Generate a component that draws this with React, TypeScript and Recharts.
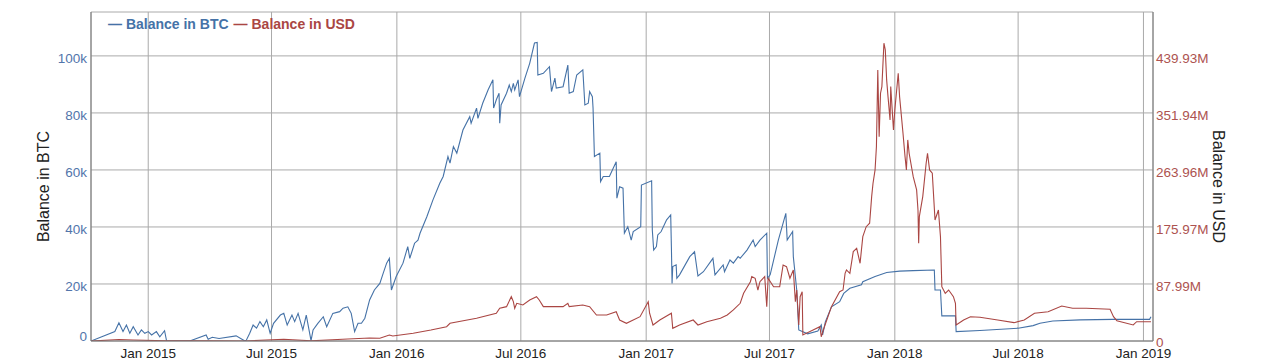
import React from "react";
import { LineChart, Line, XAxis, YAxis, CartesianGrid, Label } from "recharts";

const FONT = '"Liberation Sans", Arial, Helvetica, sans-serif';
const BTC_COLOR = "#4572A7";
const USD_COLOR = "#AA4643";

// ---------------- Data ----------------
const btcDates: string[] = [
  "2014-10-09","2014-11-13","2014-11-19","2014-11-25","2014-11-30","2014-12-05","2014-12-10","2014-12-17","2014-12-22","2014-12-27",
  "2015-01-01","2015-01-06","2015-01-13","2015-01-18","2015-01-25","2015-01-28","2015-03-03","2015-03-27","2015-03-30","2015-04-05",
  "2015-04-15","2015-05-10","2015-05-23","2015-05-25","2015-05-30","2015-06-04","2015-06-09","2015-06-14","2015-06-19","2015-06-24",
  "2015-06-29","2015-07-04","2015-07-14","2015-07-19","2015-07-24","2015-07-31","2015-08-04","2015-08-09","2015-08-16","2015-08-21",
  "2015-08-26","2015-08-28","2015-08-31","2015-09-07","2015-09-15","2015-09-20","2015-09-29","2015-10-09","2015-10-14","2015-10-21",
  "2015-10-26","2015-10-31","2015-11-05","2015-11-10","2015-11-15","2015-11-22","2015-11-29","2015-12-07","2015-12-12","2015-12-17",
  "2015-12-21","2015-12-24","2015-12-31","2016-01-10","2016-01-17","2016-01-20","2016-01-27","2016-02-01","2016-02-04","2016-02-14",
  "2016-02-23","2016-03-04","2016-03-09","2016-03-16","2016-03-19","2016-03-24","2016-03-29","2016-04-07","2016-04-17","2016-04-19",
  "2016-04-27","2016-04-29","2016-05-06","2016-05-14","2016-05-21","2016-05-22","2016-05-26","2016-05-30","2016-05-31","2016-06-02",
  "2016-06-10","2016-06-14","2016-06-17","2016-06-20","2016-06-22","2016-06-27","2016-06-29","2016-07-07","2016-07-14","2016-07-21",
  "2016-07-25","2016-07-26","2016-08-03","2016-08-12","2016-08-15","2016-08-20","2016-08-22","2016-09-01","2016-09-08","2016-09-10",
  "2016-09-16","2016-09-21","2016-09-30","2016-10-03","2016-10-08","2016-10-10","2016-10-14","2016-10-15","2016-10-17","2016-10-25",
  "2016-10-26","2016-10-30","2016-11-08","2016-11-18","2016-11-19","2016-11-23","2016-11-28","2016-11-30","2016-12-05","2016-12-10",
  "2016-12-13","2016-12-24","2016-12-25","2017-01-09","2017-01-10","2017-01-12","2017-01-16","2017-01-18","2017-01-23","2017-01-31",
  "2017-02-06","2017-02-07","2017-02-08","2017-02-09","2017-02-14","2017-02-15","2017-02-19","2017-03-06","2017-03-13","2017-03-18",
  "2017-03-26","2017-04-09","2017-04-12","2017-04-24","2017-04-26","2017-05-04","2017-05-09","2017-05-16","2017-05-19","2017-05-29",
  "2017-06-07","2017-06-10","2017-06-17","2017-06-27","2017-06-28","2017-07-02","2017-07-14","2017-07-25","2017-07-27","2017-08-04",
  "2017-08-05","2017-08-10","2017-08-13","2017-08-26","2017-09-10","2017-09-15","2017-09-17","2017-09-21","2017-09-30","2017-10-12",
  "2017-10-18","2017-10-27","2017-11-13","2017-11-15","2017-12-03","2017-12-20","2018-01-08","2018-01-28","2018-02-28","2018-03-01",
  "2018-03-09","2018-03-11","2018-03-31","2018-04-01","2018-05-06","2018-07-01","2018-07-23","2018-08-02","2018-08-21","2018-09-30",
  "2018-11-17","2019-01-10","2019-01-12",
];
const btcValues: number[] = [
  0,3300,6400,3300,5600,2700,5000,2100,3900,2700,
  3300,2100,3300,1500,3600,0,0,2100,600,1300,
  900,1800,0,300,2700,5600,4500,6800,5000,7400,
  2700,6200,9100,9700,5600,9100,6800,9700,3900,9100,
  2700,100,3900,6200,8500,5000,9700,10300,11500,12000,
  9700,3300,6200,6200,8000,14400,17900,20200,23800,27300,
  29000,17900,22600,27300,33100,29000,34300,35400,37800,43600,
  49500,55300,57700,64700,62400,68200,65900,74000,78700,76400,
  81700,78100,83400,88100,91600,81700,84600,86900,76400,82800,
  86900,89800,87500,90400,88100,91600,85700,92200,97400,104500,
  104700,93300,93900,96200,87500,92200,88700,89200,96800,86900,
  87500,93300,95100,82800,83400,87500,85700,81700,64700,65900,
  55900,57700,57700,62900,50100,54100,53600,37800,40100,35400,
  38400,40100,54700,56200,38900,31900,33100,37200,38400,42500,
  44200,33100,20200,26100,26700,22000,23200,29600,31300,22800,
  24300,29000,23200,26700,24300,28400,27300,29600,29000,31900,
  35400,33100,35400,37800,22000,23200,35400,44800,35400,38400,
  29600,17900,3900,2500,3500,5600,2100,6700,12000,13800,
  16700,18500,19700,20800,22600,24000,24500,24700,24900,17900,
  17900,8800,8800,3300,3700,4500,5400,6200,7000,7400,
  7600,7600,8500,
];

const usdDates: string[] = [
  "2014-10-09","2014-11-19","2014-12-10","2015-01-28","2015-03-27","2015-05-23","2015-07-19","2015-08-28","2015-10-21","2015-11-22",
  "2015-12-07","2015-12-21","2015-12-26","2016-01-25","2016-02-20","2016-03-14","2016-03-19","2016-04-27","2016-05-26","2016-05-31",
  "2016-06-10","2016-06-17","2016-06-20","2016-06-22","2016-06-25","2016-07-04","2016-07-14","2016-07-24","2016-07-28","2016-08-03",
  "2016-09-01","2016-09-08","2016-09-10","2016-09-30","2016-10-10","2016-10-20","2016-11-04","2016-11-18","2016-11-23","2016-12-03",
  "2016-12-13","2016-12-23","2017-01-04","2017-01-06","2017-01-11","2017-01-21","2017-02-07","2017-02-09","2017-02-19","2017-03-11",
  "2017-03-18","2017-03-31","2017-04-20","2017-04-30","2017-05-09","2017-05-19","2017-05-24","2017-06-03","2017-06-05","2017-06-10",
  "2017-06-14","2017-06-17","2017-06-24","2017-06-27","2017-06-29","2017-07-07","2017-07-16","2017-07-21","2017-07-26","2017-07-31",
  "2017-08-05","2017-08-08","2017-08-10","2017-08-13","2017-08-15","2017-08-18","2017-08-19","2017-09-03","2017-09-13","2017-09-15",
  "2017-09-18","2017-09-30","2017-10-12","2017-10-17","2017-10-20","2017-10-22","2017-10-27","2017-11-01","2017-11-06","2017-11-11",
  "2017-11-15","2017-11-20","2017-11-25","2017-11-28","2017-11-30","2017-12-03","2017-12-05","2017-12-07","2017-12-09","2017-12-11",
  "2017-12-13","2017-12-16","2017-12-18","2017-12-20","2017-12-22","2017-12-25","2017-12-26","2017-12-30","2018-01-01","2018-01-06",
  "2018-01-08","2018-01-13","2018-01-16","2018-01-18","2018-01-20","2018-01-22","2018-01-28","2018-02-02","2018-02-04","2018-02-05",
  "2018-02-06","2018-02-11","2018-02-16","2018-02-18","2018-02-21","2018-02-25","2018-03-01","2018-03-06","2018-03-09","2018-03-11",
  "2018-03-16","2018-03-21","2018-03-28","2018-03-31","2018-04-01","2018-04-12","2018-04-22","2018-05-06","2018-06-01","2018-06-25",
  "2018-07-10","2018-07-25","2018-08-14","2018-09-03","2018-09-19","2018-10-09","2018-11-13","2018-11-18","2018-11-23","2018-12-17",
  "2018-12-22","2019-01-12",
];
// millions of USD
const usdValues: number[] = [
  0,2.2,1.6,0.3,0.5,0.1,2.7,0.3,3.2,4.6,
  4.2,9.3,7.7,11.9,17,22.1,27.3,35,42.8,50.5,
  53,68.4,60.7,50.5,58.2,55.6,63.3,68.4,63.3,53,
  53,58.2,53,55.6,53,40.1,40.1,45.2,32.4,27.3,
  32.4,37.5,60.7,42.8,24.7,32.4,42.8,19.6,24.7,32.4,
  24.7,29.8,35,40.1,47.9,58.2,73.6,91.5,99.3,96.8,
  78.7,91.5,99.3,53,96.8,83.8,83.8,117.3,114.7,96.8,
  109.6,60.7,78.7,24.7,68.4,76.1,9.3,17,22.1,6.6,
  17,53,76.1,78.7,104.5,109.6,104.5,137.9,143.1,119.9,
  161,176.4,181.7,222.8,243.4,264,300,418.3,315.4,382.4,
  392.6,459.6,449.2,402.9,377.1,341.2,392.6,325.7,356.6,413.2,
  377.1,320.6,284.5,264,310.3,289.7,253.6,233.1,202.2,150.8,
  191.9,222.8,274.3,289.7,264,258.9,186.8,202.2,161,83.8,
  73.6,78.7,68.4,58.2,24.7,32.4,37.5,36.6,32.4,28.3,
  32.4,42.8,45.2,54,50.5,50.5,48.9,37.5,31.3,24.7,
  29.8,29.8,
];

const btcTicks: number[] = [0, 20000, 40000, 60000, 80000, 100000];
const usdTicks: number[] = [0, 87.986, 175.972, 263.958, 351.944, 439.93];
const xTickDates: string[] = [
  "2015-01-01","2015-07-01","2016-01-01","2016-07-01","2017-01-01",
  "2017-07-01","2018-01-01","2018-07-01","2019-01-01",
];
const monthNames: string[] = ["Jan","Feb","Mar","Apr","May","Jun","Jul","Aug","Sep","Oct","Nov","Dec"];
const xDomainDates: string[] = ["2014-10-09", "2019-01-15"];
const btcMax = 115400;
const usdMax = 507.7;

// ---------------- Build tables ----------------
const ts = (s: string) => new Date(s + "T00:00:00Z").getTime();
const btcData = btcDates.map((d, i) => ({ t: ts(d), v: btcValues[i] }));
const usdData = usdDates.map((d, i) => ({ t: ts(d), v: usdValues[i] }));
const xTicks = xTickDates.map(ts);
const fmtDate = (t: number) => {
  const d = new Date(t);
  return `${monthNames[d.getUTCMonth()]} ${d.getUTCFullYear()}`;
};

const LeftTick = (props: any) => {
  const { x, y, payload } = props;
  const v = payload.value as number;
  const label = v === 0 ? "0" : `${Math.round(v / 1000)}k`;
  return (
    <text x={x} y={y} dy={v === 0 ? -0.5 : 6.8} textAnchor="end" fill="#5275ab" fontSize={13.5} fontFamily={FONT}>
      {label}
    </text>
  );
};

const RightTick = (props: any) => {
  const { x, y, payload } = props;
  const v = payload.value as number;
  const label = v === 0 ? "0" : `${v.toFixed(2)}M`;
  return (
    <text x={x} y={y} dy={v === 0 ? 6.3 : 7} textAnchor="start" fill="#ad5350" fontSize={13.5} fontFamily={FONT}>
      {label}
    </text>
  );
};

const makeTitle = (text: string, angle: number, dx: number) => (props: any) => {
  const vb = props.viewBox || {};
  const cx = vb.x + vb.width / 2 + dx;
  const cy = vb.y + vb.height / 2 + 10;
  return (
    <text
      x={cx}
      y={cy}
      transform={`rotate(${angle} ${cx} ${cy})`}
      textAnchor="middle"
      dominantBaseline="central"
      fill="#222"
      fontSize={16}
      fontFamily={FONT}
    >
      {text}
    </text>
  );
};

export default function App() {
  return (
    <div style={{ position: "absolute", left: 0, top: 0, width: 1278, height: 362, background: "#fff" }}>
      <LineChart width={1278} height={362} margin={{ top: 12, right: 0, bottom: 0, left: 0 }}>
        <CartesianGrid yAxisId="left" stroke="#aaaaaa" strokeWidth={1} />
        <XAxis
          dataKey="t"
          type="number"
          domain={[ts(xDomainDates[0]), ts(xDomainDates[1])]}
          allowDataOverflow
          ticks={xTicks}
          tickFormatter={fmtDate}
          height={21}
          tickSize={0}
          tickMargin={7}
          axisLine={{ stroke: "#777" }}
          tickLine={false}
          tick={{ fill: "#222", fontSize: 13.5, fontFamily: FONT }}
          interval={0}
        />
        <YAxis
          yAxisId="left"
          width={91}
          domain={[0, btcMax]}
          ticks={btcTicks}
          allowDataOverflow
          tick={<LeftTick />}
          tickSize={0}
          tickMargin={4}
          tickLine={false}
          axisLine={{ stroke: "#777" }}
          interval={0}
        >
          <Label content={makeTitle("Balance in BTC", -90, -2)} />
        </YAxis>
        <YAxis
          yAxisId="right"
          orientation="right"
          width={125}
          domain={[0, usdMax]}
          ticks={usdTicks}
          allowDataOverflow
          tick={<RightTick />}
          tickSize={0}
          tickMargin={3}
          tickLine={false}
          axisLine={{ stroke: "#777" }}
          interval={0}
        >
          <Label content={makeTitle("Balance in USD", 90, 2.5)} />
        </YAxis>
        <Line
          data={btcData}
          dataKey="v"
          yAxisId="left"
          type="linear"
          stroke={BTC_COLOR}
          strokeWidth={1.1}
          dot={false}
          activeDot={false}
          isAnimationActive={false}
        />
        <Line
          data={usdData}
          dataKey="v"
          yAxisId="right"
          type="linear"
          stroke={USD_COLOR}
          strokeWidth={1.1}
          dot={false}
          activeDot={false}
          isAnimationActive={false}
        />
      </LineChart>
      <div
        style={{
          position: "absolute",
          left: 108,
          top: 14,
          fontFamily: FONT,
          fontWeight: "bold",
          fontSize: 14,
          lineHeight: "20px",
          whiteSpace: "nowrap",
        }}
      >
        <span style={{ color: BTC_COLOR }}>— Balance in BTC</span>
        <span style={{ color: USD_COLOR, marginLeft: 5 }}>— Balance in USD</span>
      </div>
    </div>
  );
}
